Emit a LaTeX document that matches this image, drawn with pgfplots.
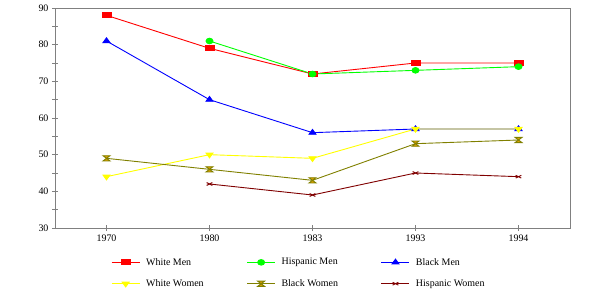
\documentclass[border=0pt]{standalone}
\usepackage{fontspec}
\setmainfont{Liberation Serif}
\usepackage{pgfplots}
\pgfplotsset{compat=1.18}
\definecolor{axgray}{HTML}{808080}
\definecolor{lime}{HTML}{00FF00}
\definecolor{yel}{HTML}{FFFF00}
\definecolor{oliv}{HTML}{808000}
\definecolor{maroon}{HTML}{800000}
\definecolor{hgfill}{HTML}{E0A000}
% hourglass mark for Black Women
\pgfdeclareplotmark{hourglass}{%
  \pgfpathmoveto{\pgfqpoint{-\pgfplotmarksize}{\pgfplotmarksize}}%
  \pgfpathlineto{\pgfqpoint{\pgfplotmarksize}{\pgfplotmarksize}}%
  \pgfpathlineto{\pgfqpoint{-\pgfplotmarksize}{-\pgfplotmarksize}}%
  \pgfpathlineto{\pgfqpoint{\pgfplotmarksize}{-\pgfplotmarksize}}%
  \pgfpathclose
  \pgfusepathqfillstroke}
\begin{document}
\begin{tikzpicture}
\useasboundingbox (0bp,0bp) rectangle (600bp,302bp);
\begin{axis}[
    at={(55bp,74bp)}, anchor=south west,
    scale only axis,
    width=515bp, height=220bp,
    xmin=-0.5, xmax=4.5,
    ymin=30, ymax=90,
    xtick={0,1,2,3,4},
    xticklabels={1970,1980,1983,1993,1994},
    ytick={30,40,50,60,70,80,90},
    minor y tick num=1,
    axis line style={axgray, line width=0.9bp},
    tick style={axgray, line width=0.9bp},
    tick align=center,
    major tick length=6bp,
    minor tick length=5bp,
    xtick pos=bottom, ytick pos=left,
    /pgf/number format/assume math mode=true,
    tick label style={font=\fontsize{10}{12}\selectfont, black},
    every axis plot/.append style={line width=0.9bp},
    legend columns=3,
    legend cell align=left,
    legend image code/.code={\draw[mark repeat=2,mark phase=2] plot coordinates {(0bp,0bp)(14bp,0bp)(28bp,0bp)};},
    legend style={at={(0.103,-0.118)}, anchor=north west, draw=none, fill=none,
      font=\fontsize{10}{12}\selectfont, row sep=9bp,
      /tikz/every odd column/.append style={column sep=4bp},
      /tikz/every even column/.append style={column sep=41bp}},
]
\addplot[red, mark=square*, mark size=4.5bp, mark options={yscale=0.55}] coordinates {
  (0,88) (1,79) (2,72) (3,75) (4,75)};
\addlegendentry{White Men}
\addplot[lime, mark=*, mark size=3.5bp, mark options={yscale=0.8}] coordinates {
  (1,81) (2,72) (3,73) (4,74)};
\addlegendentry{Hispanic Men}
\addplot[blue, mark=triangle*, mark size=4bp, mark options={yscale=0.8}] coordinates {
  (0,81) (1,65) (2,56) (3,57) (4,57)};
\addlegendentry{Black Men}
\addplot[yel, mark=triangle*, mark size=4bp, mark options={rotate=180, yscale=0.8}] coordinates {
  (0,44) (1,50) (2,49) (3,57) (4,57)};
\addlegendentry{White Women}
\addplot[oliv, mark=hourglass, mark size=3.5bp, mark options={fill=hgfill, draw=oliv, yscale=0.75}] coordinates {
  (0,49) (1,46) (2,43) (3,53) (4,54)};
\addlegendentry{Black Women}
\addplot[maroon, mark=x, mark size=4bp, mark options={yscale=0.5}] coordinates {
  (1,42) (2,39) (3,45) (4,44)};
\addlegendentry{Hispanic Women}
\end{axis}
\end{tikzpicture}
\end{document}
